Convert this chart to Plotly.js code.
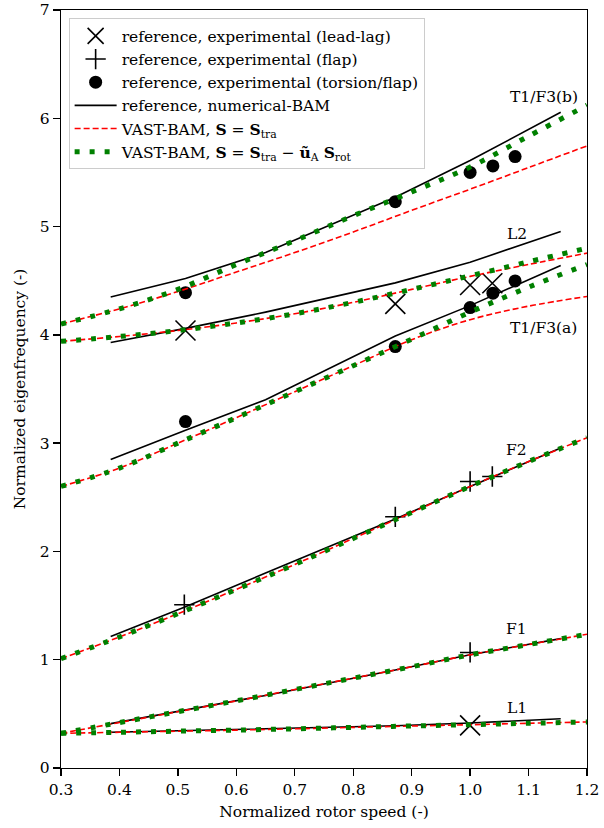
<!DOCTYPE html>
<html>
<head>
<meta charset="utf-8">
<script src="https://cdn.plot.ly/plotly-3.0.1.min.js"></script>
<style>html,body{margin:0;padding:0;background:#fff;}#chart{width:604px;height:828px;}</style>
</head>
<body>
<div id="chart"></div>
<script>
// ---- data ----
const xVast = [0.3, 0.4, 0.5, 0.6, 0.7, 0.8, 0.9, 1.0, 1.1, 1.2];
const traT1F3b = [4.10, 4.24, 4.40, 4.58, 4.76, 4.95, 5.15, 5.345, 5.545, 5.745];
const traL2    = [3.94, 3.985, 4.04, 4.11, 4.195, 4.30, 4.42, 4.54, 4.65, 4.755];
const traT1F3a = [2.60, 2.77, 3.00, 3.235, 3.475, 3.715, 3.955, 4.14, 4.265, 4.355];
const traF2    = [1.01, 1.21, 1.425, 1.65, 1.88, 2.12, 2.36, 2.60, 2.83, 3.05];
const traF1    = [0.32, 0.42, 0.52, 0.62, 0.725, 0.83, 0.935, 1.045, 1.14, 1.235];
const traL1    = [0.32, 0.33, 0.34, 0.35, 0.362, 0.375, 0.388, 0.40, 0.413, 0.425];

const rotT1F3b = [4.10, 4.24, 4.42, 4.65, 4.87, 5.10, 5.32, 5.55, 5.835, 6.12];
const rotL2    = [3.94, 3.985, 4.04, 4.11, 4.195, 4.30, 4.42, 4.545, 4.675, 4.80];
const rotT1F3a = [2.60, 2.77, 3.00, 3.235, 3.475, 3.715, 3.96, 4.21, 4.44, 4.65];
const rotF2    = [1.01, 1.21, 1.425, 1.65, 1.88, 2.12, 2.36, 2.60, 2.83, 3.05];
const rotF1    = [0.32, 0.42, 0.52, 0.62, 0.725, 0.83, 0.935, 1.045, 1.14, 1.235];
const rotL1    = [0.32, 0.33, 0.34, 0.35, 0.362, 0.375, 0.388, 0.40, 0.413, 0.425];

const xNum = [0.385, 0.513, 0.65, 0.872, 1.0, 1.155];
const numT1F3b = [4.35, 4.52, 4.76, 5.27, 5.61, 6.055];
const numL2    = [3.93, 4.06, 4.21, 4.48, 4.67, 4.955];
const numT1F3a = [2.85, 3.12, 3.40, 3.99, 4.27, 4.64];
const numF2    = [1.215, 1.49, 1.80, 2.30, 2.60, 2.955];
const numF1    = [0.41, 0.535, 0.67, 0.905, 1.046, 1.195];
const numL1    = [0.33, 0.345, 0.36, 0.39, 0.415, 0.455];

const leadlagX = [0.513, 0.872, 1.0, 1.038, 1.0];
const leadlagY = [4.04, 4.286, 4.46, 4.477, 0.394];
const flapX = [0.511, 0.872, 1.0, 1.038, 1.0];
const flapY = [1.508, 2.32, 2.646, 2.692, 1.067];
const torsX = [0.513, 0.513, 0.872, 0.872, 1.0, 1.039, 1.077, 1.0, 1.039, 1.077];
const torsY = [4.39, 3.199, 5.23, 3.892, 5.50, 5.56, 5.646, 4.252, 4.385, 4.498];

const modeNames = ['T1/F3(b)', 'L2', 'T1/F3(a)', 'F2', 'F1', 'L1'];
const modeLabelX = [1.126, 1.08, 1.126, 1.08, 1.08, 1.08];
const modeLabelY = [6.20, 4.93, 4.06, 2.94, 1.283, 0.554];

const xTicks = [0.3, 0.4, 0.5, 0.6, 0.7, 0.8, 0.9, 1.0, 1.1, 1.2];
const yTicks = [0, 1, 2, 3, 4, 5, 6, 7];

// ---- traces ----
const FONT = 'DejaVu Serif, serif';
const traces = [];
traces.push({x: leadlagX, y: leadlagY, mode: 'markers', type: 'scatter',
  name: 'reference, experimental (lead-lag)',
  marker: {symbol: 'x-thin', size: 20, color: 'black', line: {color: 'black', width: 1.6}}});
traces.push({x: flapX, y: flapY, mode: 'markers', type: 'scatter',
  name: 'reference, experimental (flap)',
  marker: {symbol: 'cross-thin', size: 14.5, color: 'black', line: {color: 'black', width: 1.6}}});
traces.push({x: torsX, y: torsY, mode: 'markers', type: 'scatter',
  name: 'reference, experimental (torsion/flap)',
  marker: {symbol: 'circle', size: 13, color: 'black', line: {width: 0}}});

function addGroup(xs, series, name, group, line, shape) {
  series.forEach((ys, i) => {
    traces.push({x: xs, y: ys, mode: 'lines', type: 'scatter', name: name,
      legendgroup: group, showlegend: i === 0,
      line: Object.assign({shape: shape}, line)});
  });
}
addGroup(xNum, [numT1F3b, numL2, numT1F3a, numF2, numF1, numL1],
  'reference, numerical-BAM', 'num', {color: 'black', width: 1.6}, 'linear');
addGroup(xVast, [traT1F3b, traL2, traT1F3a, traF2, traF1, traL1],
  'VAST-BAM, <b>S</b> = <b>S</b><sub>tra</sub>', 'tra',
  {color: '#ff0000', width: 1.6, dash: '6px,3px'}, 'spline');
addGroup(xVast, [rotT1F3b, rotL2, rotT1F3a, rotF2, rotF1, rotL1],
  'VAST-BAM, <b>S</b> = <b>S</b><sub>tra</sub> − <b>ũ</b><sub>A</sub> <b>S</b><sub>rot</sub>', 'rot',
  {color: '#008000', width: 5, dash: '5px,10px'}, 'spline');

const annotations = modeNames.map((t, i) => ({
  x: modeLabelX[i], y: modeLabelY[i], xref: 'x', yref: 'y', text: t,
  showarrow: false, xanchor: 'center', yanchor: 'middle',
  font: {family: FONT, size: 15.5, color: 'black'}
}));

const axisCommon = {
  showgrid: false, zeroline: false, showline: true, mirror: true,
  linecolor: 'black', linewidth: 1.3, ticks: 'outside', ticklen: 7,
  tickwidth: 1.3, tickcolor: 'black',
  tickfont: {family: FONT, size: 15.5, color: 'black'}
};

const layout = {
  width: 604, height: 828,
  margin: {l: 61, r: 17, t: 10, b: 60},
  paper_bgcolor: 'white', plot_bgcolor: 'white',
  font: {family: FONT, size: 15.5, color: 'black'},
  showlegend: true,
  legend: {x: 0.0145, y: 0.989, xanchor: 'left', yanchor: 'top',
    bgcolor: 'rgba(255,255,255,0.85)', bordercolor: '#cccccc', borderwidth: 1,
    font: {family: FONT, size: 15.5, color: 'black'}, itemwidth: 42,
    tracegroupgap: 0},
  xaxis: Object.assign({}, axisCommon, {
    range: [0.3, 1.2], tickvals: xTicks, tickformat: '.1f',
    title: {text: 'Normalized rotor speed (-)', font: {family: FONT, size: 15.5}, standoff: 8}
  }),
  yaxis: Object.assign({}, axisCommon, {
    range: [0, 7], tickvals: yTicks,
    title: {text: 'Normalized eigenfrequency (-)', font: {family: FONT, size: 15.5}, standoff: 10}
  }),
  annotations: annotations
};

Plotly.newPlot('chart', traces, layout, {displayModeBar: false, staticPlot: true});
</script>
</body>
</html>
